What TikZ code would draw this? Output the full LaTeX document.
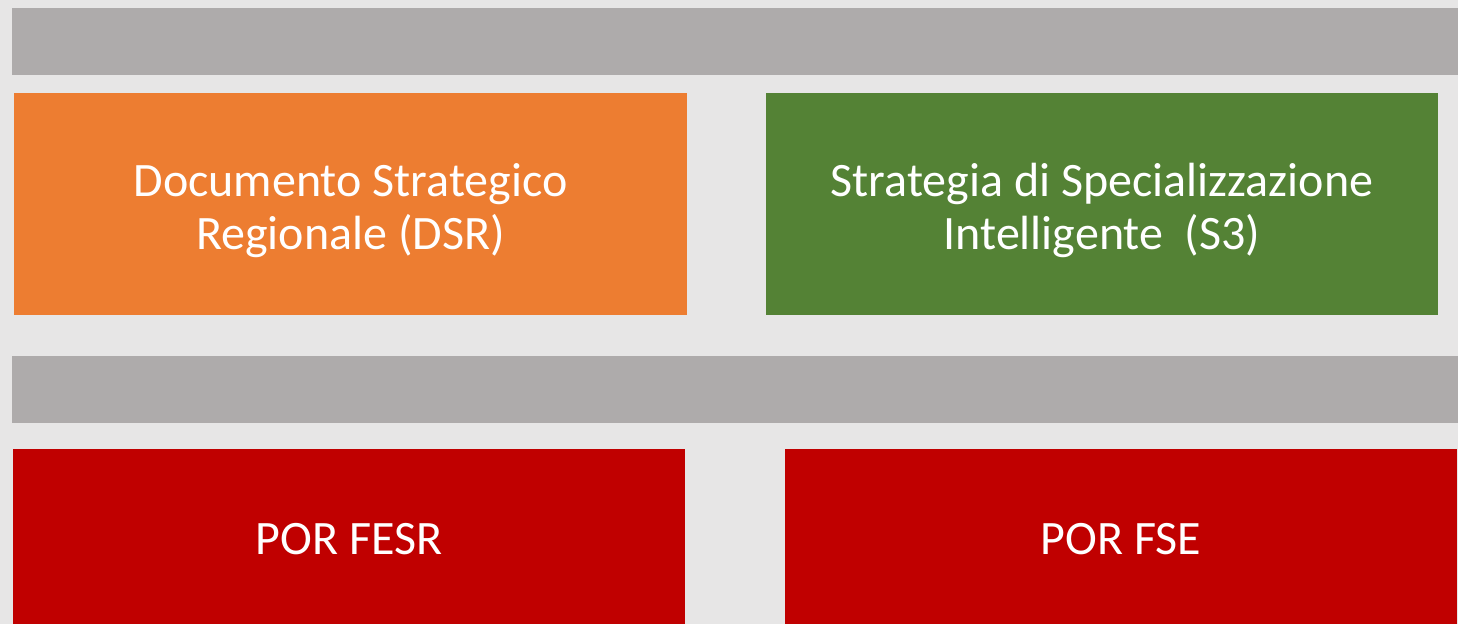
\documentclass[tikz,border=0pt]{standalone}
\usepackage{fontspec}
\setmainfont{Carlito}
\usepackage{xcolor}
\usepackage{tikz}
\usetikzlibrary{positioning}

\definecolor{pagebg}{HTML}{E7E6E6}
\definecolor{bargray}{HTML}{AEABAB}
\definecolor{dsrorange}{HTML}{ED7D31}
\definecolor{sgreen}{HTML}{548235}
\definecolor{porred}{HTML}{C00000}

\begin{document}
\begin{tikzpicture}[x=1pt, y=-1pt,
  box/.style={rectangle, inner sep=0pt, outer sep=0pt, text=white, align=center,
    font=\fontsize{48}{53}\selectfont, text depth=0pt},
  bar/.style={rectangle, inner sep=0pt, outer sep=0pt, fill=bargray,
    minimum width=1446pt, minimum height=67pt}]
% Background
\fill[pagebg] (0,0) rectangle (1458,624);
\useasboundingbox (0,0) rectangle (1458,624);

% Grey bands
\foreach \y [count=\i] in {41.5,389.5}
  \node [bar] (bar-\i) at (735,\y) {};

% Strategy documents
\node [box, fill=dsrorange, minimum width=673pt, minimum height=222pt, text height=90pt] (dsr) at (350.5,204)
  {Documento Strategico\\Regionale (DSR)};
\node [box, fill=sgreen, minimum width=672pt, minimum height=222pt, text height=90pt] (s3) at (1102,204)
  {Strategia di Specializzazione\\Intelligente\ \ (S3)};

% Operational programmes
\node [box, fill=porred, minimum width=672pt, minimum height=175pt, text height=35pt] (fesr) at (349,536.5) {POR FESR};
\node [box, fill=porred, minimum width=672pt, minimum height=175pt, text height=35pt] (fse) at (1121,536.5) {POR FSE};
\end{tikzpicture}
\end{document}
